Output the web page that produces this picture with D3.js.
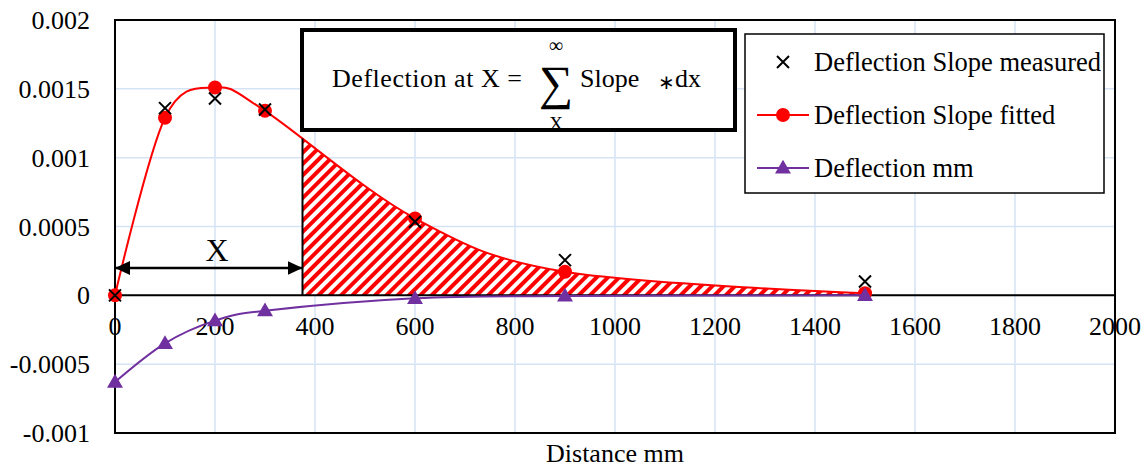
<!DOCTYPE html>
<html>
<head>
<meta charset="utf-8">
<script src="https://cdn.jsdelivr.net/npm/d3@7"></script>
<style>
  body { margin: 0; background: #fff; }
  svg text { font-family: "Liberation Serif", "Times New Roman", serif; fill: #000; }
</style>
</head>
<body>
<div id="chart"></div>
<script>
// values
var distance = [0, 100, 200, 300, 600, 900, 1500];
var slopeMeasured = [0, 0.00136, 0.00143, 0.00135, 0.000535, 0.000256, 0.0001];
var slopeFitted = [0, 0.00129, 0.00151, 0.00134, 0.000559, 0.000171, 0.000015];
var deflection = [-0.00063, -0.000349, -0.000184, -0.000112, -0.000022, -0.000005, 0];

var xTicks = [0, 200, 400, 600, 800, 1000, 1200, 1400, 1600, 1800, 2000];
var yTicks = [0.002, 0.0015, 0.001, 0.0005, 0, -0.0005, -0.001];
var yTickLabels = ['0.002', '0.0015', '0.001', '0.0005', '0', '-0.0005', '-0.001'];
var seriesNames = ['Deflection Slope measured', 'Deflection Slope fitted', 'Deflection mm'];
var xStart = 375; // where the summation starts (X)

var W = 1147, H = 471;
var plot = {left: 115, right: 1115, top: 20, bottom: 433};
var red = '#ff0000', purple = '#7030a0', grid = '#d6e3f4';

var svg = d3.select('#chart').append('svg').attr('width', W).attr('height', H)
  .attr('font-family', '"Liberation Serif", serif');

var x = d3.scaleLinear().domain([0, 2000]).range([plot.left, plot.right]);
var y = d3.scaleLinear().domain([-0.001, 0.002]).range([plot.bottom, plot.top]);

var defs = svg.append('defs');
var pat = defs.append('pattern')
  .attr('id', 'hatch')
  .attr('patternUnits', 'userSpaceOnUse')
  .attr('width', 8).attr('height', 8)
  .attr('patternTransform', 'rotate(45)');
pat.append('rect').attr('width', 8).attr('height', 8).attr('fill', '#fff');
pat.append('rect').attr('width', 4).attr('height', 8).attr('fill', red);

defs.append('clipPath').attr('id', 'fromX')
  .append('rect')
    .attr('x', x(xStart)).attr('y', plot.top)
    .attr('width', plot.right - x(xStart)).attr('height', plot.bottom - plot.top);

defs.append('marker')
  .attr('id', 'arr')
  .attr('viewBox', '0 0 15 14')
  .attr('refX', 15).attr('refY', 7)
  .attr('markerWidth', 15).attr('markerHeight', 14)
  .attr('markerUnits', 'userSpaceOnUse')
  .attr('orient', 'auto-start-reverse')
  .append('path').attr('d', 'M0,0L15,7L0,14Z').attr('fill', '#000');

// gridlines
svg.append('g').selectAll('line').data(xTicks).enter().append('line')
  .attr('x1', function(d) { return x(d); }).attr('x2', function(d) { return x(d); })
  .attr('y1', plot.top).attr('y2', plot.bottom)
  .attr('stroke', grid).attr('stroke-width', 1.5);
svg.append('g').selectAll('line').data(yTicks).enter().append('line')
  .attr('x1', plot.left).attr('x2', plot.right)
  .attr('y1', function(d) { return y(d); }).attr('y2', function(d) { return y(d); })
  .attr('stroke', grid).attr('stroke-width', 1.5);

var pts = function(vals) {
  return distance.map(function(d, i) { return [d, vals[i]]; });
};
var curve = d3.curveCatmullRom.alpha(0);
var line = d3.line().x(function(d) { return x(d[0]); }).y(function(d) { return y(d[1]); }).curve(curve);
var area = d3.area().x(function(d) { return x(d[0]); })
  .y0(y(0)).y1(function(d) { return y(d[1]); }).curve(curve);

// hatched area under the fitted slope, from X onwards
svg.append('path')
  .attr('d', area(pts(slopeFitted)))
  .attr('fill', 'url(#hatch)')
  .attr('clip-path', 'url(#fromX)');

// plot frame
svg.append('rect')
  .attr('x', plot.left).attr('y', plot.top)
  .attr('width', plot.right - plot.left).attr('height', plot.bottom - plot.top)
  .attr('fill', 'none').attr('stroke', '#000').attr('stroke-width', 2);

// zero axis
svg.append('line')
  .attr('x1', plot.left).attr('x2', plot.right)
  .attr('y1', y(0)).attr('y2', y(0))
  .attr('stroke', '#000').attr('stroke-width', 2);

// tick labels
svg.append('g').selectAll('text').data(xTicks).enter().append('text')
  .attr('x', function(d) { return x(d); }).attr('y', y(0) + 40)
  .attr('text-anchor', 'middle').attr('font-size', 26)
  .text(function(d) { return d; });
svg.append('g').selectAll('text').data(yTicks).enter().append('text')
  .attr('x', 90).attr('y', function(d) { return y(d) + 9; })
  .attr('text-anchor', 'end').attr('font-size', 26)
  .text(function(d, i) { return yTickLabels[i]; });

svg.append('text')
  .attr('x', 615).attr('y', 462)
  .attr('text-anchor', 'middle').attr('font-size', 26)
  .text('Distance mm');

// fitted slope
var fittedPath = svg.append('path')
  .attr('d', line(pts(slopeFitted)))
  .attr('fill', 'none').attr('stroke', red).attr('stroke-width', 2);

// vertical line at X up to the curve
var node = fittedPath.node(), len = node.getTotalLength();
var lo = 0, hi = len;
for (var k = 0; k < 40; k++) {
  var mid = (lo + hi) / 2;
  if (node.getPointAtLength(mid).x < x(xStart)) lo = mid; else hi = mid;
}
var topPt = node.getPointAtLength(lo);
svg.append('line')
  .attr('x1', x(xStart)).attr('x2', x(xStart))
  .attr('y1', topPt.y).attr('y2', y(0))
  .attr('stroke', '#000').attr('stroke-width', 2);

svg.append('g').selectAll('circle').data(pts(slopeFitted)).enter().append('circle')
  .attr('cx', function(d) { return x(d[0]); }).attr('cy', function(d) { return y(d[1]); })
  .attr('r', 7).attr('fill', red);

// measured slope (x markers)
var cross = function(g, cx, cy, s) {
  g.append('path')
    .attr('d', 'M' + (cx - s) + ',' + (cy - s) + 'L' + (cx + s) + ',' + (cy + s) +
               'M' + (cx - s) + ',' + (cy + s) + 'L' + (cx + s) + ',' + (cy - s))
    .attr('stroke', '#000').attr('stroke-width', 2).attr('fill', 'none');
};
var gm = svg.append('g');
pts(slopeMeasured).forEach(function(d) { cross(gm, x(d[0]), y(d[1]), 6); });

// deflection
svg.append('path')
  .attr('d', line(pts(deflection)))
  .attr('fill', 'none').attr('stroke', purple).attr('stroke-width', 2);
var tri = d3.symbol().type(d3.symbolTriangle).size(110);
svg.append('g').selectAll('path').data(pts(deflection)).enter().append('path')
  .attr('d', tri)
  .attr('transform', function(d) { return 'translate(' + x(d[0]) + ',' + (y(d[1]) + 1) + ')'; })
  .attr('fill', purple);

// X dimension arrow
svg.append('line')
  .attr('x1', plot.left).attr('x2', x(xStart))
  .attr('y1', 268).attr('y2', 268)
  .attr('stroke', '#000').attr('stroke-width', 2.5)
  .attr('marker-start', 'url(#arr)').attr('marker-end', 'url(#arr)');
svg.append('text')
  .attr('x', 217).attr('y', 261)
  .attr('text-anchor', 'middle').attr('font-size', 32)
  .text('X');

// equation box
var eq = svg.append('g');
eq.append('rect')
  .attr('x', 302).attr('y', 30).attr('width', 433).attr('height', 100)
  .attr('fill', '#fff').attr('stroke', '#000').attr('stroke-width', 4);
eq.append('text').attr('x', 332).attr('y', 87).attr('font-size', 26)
  .attr('textLength', 190).attr('lengthAdjust', 'spacing')
  .text('Deflection at X =');
eq.append('text').attr('x', 556).attr('y', 99).attr('text-anchor', 'middle')
  .attr('font-size', 48).text('\u2211');
eq.append('text').attr('x', 556).attr('y', 52).attr('text-anchor', 'middle')
  .attr('font-size', 20).text('\u221e');
eq.append('text').attr('x', 556).attr('y', 130).attr('text-anchor', 'middle')
  .attr('font-size', 19).text('X');
eq.append('text').attr('x', 580).attr('y', 87).attr('font-size', 26)
  .text('Slope');
eq.append('text').attr('x', 666).attr('y', 89).attr('text-anchor', 'middle')
  .attr('font-size', 20).text('\u2217');
eq.append('text').attr('x', 675).attr('y', 87).attr('font-size', 26)
  .text('dx');

// legend
var lg = svg.append('g');
lg.append('rect')
  .attr('x', 745).attr('y', 34).attr('width', 359).attr('height', 159)
  .attr('fill', '#fff').attr('stroke', '#000').attr('stroke-width', 1.5);
var rowY = [62, 115, 168];
seriesNames.forEach(function(name, i) {
  var cy = rowY[i], cx = 783;
  if (i === 0) {
    cross(lg, cx, cy, 6);
  } else {
    var col = i === 1 ? red : purple;
    lg.append('line').attr('x1', 757).attr('x2', 809).attr('y1', cy).attr('y2', cy)
      .attr('stroke', col).attr('stroke-width', 2);
    if (i === 1) {
      lg.append('circle').attr('cx', cx).attr('cy', cy).attr('r', 7).attr('fill', red);
    } else {
      lg.append('path').attr('d', tri).attr('transform', 'translate(' + cx + ',' + (cy + 1) + ')')
        .attr('fill', purple);
    }
  }
  lg.append('text').attr('x', 814).attr('y', cy + 9).attr('font-size', 26.5).text(name);
});
</script>
</body>
</html>
